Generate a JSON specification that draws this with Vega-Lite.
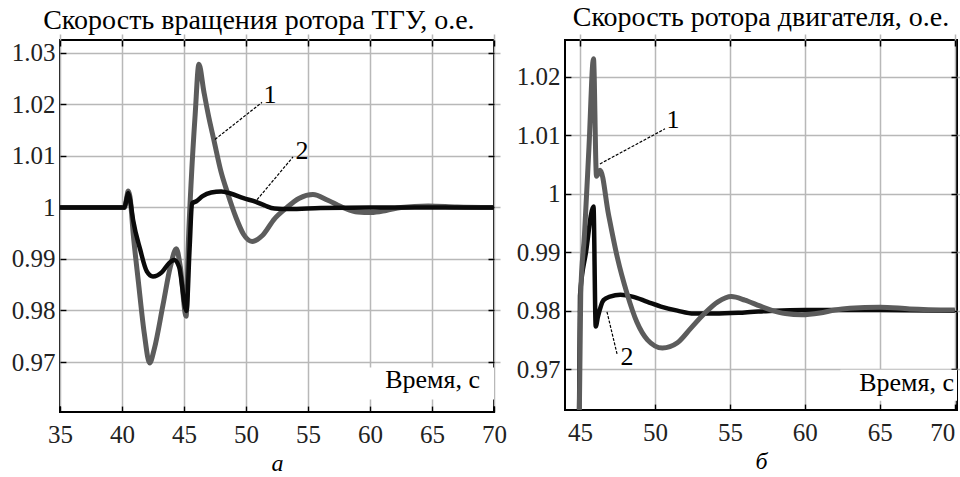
{
  "$schema": "https://vega.github.io/schema/vega-lite/v6.json",
  "padding": {"left": 10, "top": 3, "right": 5, "bottom": 0},
  "background": "white",
  "config": {
    "font": "Liberation Serif",
    "view": {"stroke": "black", "strokeWidth": 2},
    "axis": {
      "labelFont": "Liberation Serif", "labelFontSize": 25, "labelColor": "#222222",
      "grid": true, "gridColor": "#b8b8b8", "gridWidth": 1.5, "domain": false,
      "ticks": true, "tickColor": "black", "tickSize": 6, "tickWidth": 1.5, "offset": -6,
      "titleFont": "Liberation Serif", "titleFontSize": 24, "titleFontStyle": "italic",
      "titleFontWeight": "normal", "titleColor": "black"
    },
    "title": {"font": "Liberation Serif", "fontSize": 28, "fontWeight": "normal", "color": "black", "offset": 4},
    "concat": {"spacing": 7}
  },
  "datasets": {
    "tgu": [
      {"s": "1", "t": 35, "v": 1.0}, {"s": "1", "t": 40.2, "v": 1.0}, {"s": "1", "t": 40.35, "v": 1.0015},
      {"s": "1", "t": 40.5, "v": 1.0032}, {"s": "1", "t": 40.65, "v": 1.002}, {"s": "1", "t": 40.9, "v": 0.995},
      {"s": "1", "t": 41.33, "v": 0.9854}, {"s": "1", "t": 41.8, "v": 0.9755}, {"s": "1", "t": 42.23, "v": 0.9698},
      {"s": "1", "t": 42.6, "v": 0.9725}, {"s": "1", "t": 43.3, "v": 0.981}, {"s": "1", "t": 43.9, "v": 0.9885},
      {"s": "1", "t": 44.38, "v": 0.992}, {"s": "1", "t": 44.7, "v": 0.9885}, {"s": "1", "t": 45.17, "v": 0.9789},
      {"s": "1", "t": 45.35, "v": 0.993}, {"s": "1", "t": 45.6, "v": 1.006}, {"s": "1", "t": 45.9, "v": 1.018},
      {"s": "1", "t": 46.2, "v": 1.0278}, {"s": "1", "t": 46.6, "v": 1.0225}, {"s": "1", "t": 47.0, "v": 1.0175},
      {"s": "1", "t": 47.4, "v": 1.0132}, {"s": "1", "t": 48.0, "v": 1.0068}, {"s": "1", "t": 48.5, "v": 1.0029},
      {"s": "1", "t": 49.2, "v": 0.998}, {"s": "1", "t": 49.8, "v": 0.9948}, {"s": "1", "t": 50.5, "v": 0.9934},
      {"s": "1", "t": 51.3, "v": 0.9945}, {"s": "1", "t": 52.3, "v": 0.9978}, {"s": "1", "t": 53.2, "v": 0.9998},
      {"s": "1", "t": 54.3, "v": 1.0018}, {"s": "1", "t": 55.4, "v": 1.0025}, {"s": "1", "t": 56.6, "v": 1.0014},
      {"s": "1", "t": 57.9, "v": 0.9999}, {"s": "1", "t": 59.0, "v": 0.9991}, {"s": "1", "t": 60.1, "v": 0.999},
      {"s": "1", "t": 61.3, "v": 0.9994}, {"s": "1", "t": 62.5, "v": 1.0}, {"s": "1", "t": 64.7, "v": 1.0003},
      {"s": "1", "t": 67, "v": 1.0001}, {"s": "1", "t": 70, "v": 1.0},
      {"s": "2", "t": 35, "v": 1.0}, {"s": "2", "t": 40.2, "v": 1.0}, {"s": "2", "t": 40.35, "v": 1.0014},
      {"s": "2", "t": 40.5, "v": 1.0028}, {"s": "2", "t": 40.65, "v": 1.0015}, {"s": "2", "t": 40.9, "v": 0.9975},
      {"s": "2", "t": 41.47, "v": 0.9918}, {"s": "2", "t": 42.0, "v": 0.9876}, {"s": "2", "t": 42.5, "v": 0.9866},
      {"s": "2", "t": 43.2, "v": 0.9874}, {"s": "2", "t": 43.8, "v": 0.9892}, {"s": "2", "t": 44.2, "v": 0.9898},
      {"s": "2", "t": 44.6, "v": 0.9885}, {"s": "2", "t": 45.2, "v": 0.9799}, {"s": "2", "t": 45.45, "v": 0.992},
      {"s": "2", "t": 45.65, "v": 1.0008}, {"s": "2", "t": 46.0, "v": 1.0012}, {"s": "2", "t": 46.5, "v": 1.0022},
      {"s": "2", "t": 47.2, "v": 1.0029}, {"s": "2", "t": 48.0, "v": 1.0031}, {"s": "2", "t": 48.75, "v": 1.0027},
      {"s": "2", "t": 49.8, "v": 1.0018}, {"s": "2", "t": 50.8, "v": 1.0011}, {"s": "2", "t": 51.5, "v": 1.0004},
      {"s": "2", "t": 52.3, "v": 0.9998}, {"s": "2", "t": 53.5, "v": 0.9997}, {"s": "2", "t": 56, "v": 0.9999},
      {"s": "2", "t": 60, "v": 1.0}, {"s": "2", "t": 70, "v": 1.0}
    ],
    "motor": [
      {"s": "1", "t": 44.9, "v": 0.95}, {"s": "1", "t": 45.05, "v": 0.983}, {"s": "1", "t": 45.3, "v": 0.993},
      {"s": "1", "t": 45.6, "v": 1.008}, {"s": "1", "t": 45.9, "v": 1.0231}, {"s": "1", "t": 46.1, "v": 1.003},
      {"s": "1", "t": 46.35, "v": 1.004}, {"s": "1", "t": 46.9, "v": 0.9965}, {"s": "1", "t": 47.5, "v": 0.989},
      {"s": "1", "t": 48.13, "v": 0.983}, {"s": "1", "t": 48.8, "v": 0.978}, {"s": "1", "t": 49.5, "v": 0.975},
      {"s": "1", "t": 50.5, "v": 0.9736}, {"s": "1", "t": 51.5, "v": 0.9745}, {"s": "1", "t": 52.4, "v": 0.977},
      {"s": "1", "t": 53.3, "v": 0.9795}, {"s": "1", "t": 54.2, "v": 0.9815}, {"s": "1", "t": 55.1, "v": 0.9824},
      {"s": "1", "t": 56.0, "v": 0.9818}, {"s": "1", "t": 57.0, "v": 0.9808}, {"s": "1", "t": 57.75, "v": 0.9801},
      {"s": "1", "t": 58.7, "v": 0.9795}, {"s": "1", "t": 59.8, "v": 0.9793}, {"s": "1", "t": 61.0, "v": 0.9796},
      {"s": "1", "t": 62.0, "v": 0.9801}, {"s": "1", "t": 63.0, "v": 0.9804}, {"s": "1", "t": 65.0, "v": 0.9806},
      {"s": "1", "t": 67, "v": 0.9803}, {"s": "1", "t": 70, "v": 0.9801},
      {"s": "2", "t": 44.9, "v": 0.95}, {"s": "2", "t": 45.0, "v": 0.9825}, {"s": "2", "t": 45.4, "v": 0.99},
      {"s": "2", "t": 45.9, "v": 0.9978}, {"s": "2", "t": 46.05, "v": 0.9773}, {"s": "2", "t": 46.2, "v": 0.979},
      {"s": "2", "t": 46.57, "v": 0.9818}, {"s": "2", "t": 47.0, "v": 0.9824}, {"s": "2", "t": 47.7, "v": 0.9827},
      {"s": "2", "t": 48.5, "v": 0.9824}, {"s": "2", "t": 49.5, "v": 0.9815}, {"s": "2", "t": 50.4, "v": 0.9807},
      {"s": "2", "t": 51.5, "v": 0.98}, {"s": "2", "t": 52.6, "v": 0.9795}, {"s": "2", "t": 54, "v": 0.9795},
      {"s": "2", "t": 56, "v": 0.9797}, {"s": "2", "t": 58, "v": 0.98}, {"s": "2", "t": 60, "v": 0.9801},
      {"s": "2", "t": 65, "v": 0.9801}, {"s": "2", "t": 70, "v": 0.98}
    ],
    "tgu_labels": [
      {"label": "1", "t": 51.94, "v": 1.02175},
      {"label": "2", "t": 54.52, "v": 1.0109}
    ],
    "tgu_leaders": [
      {"t": 47.5, "v": 1.0132, "t2": 51.29, "v2": 1.0204},
      {"t": 50.89, "v": 1.0015, "t2": 53.79, "v2": 1.0098}
    ],
    "tgu_box": [{"t": 59.76, "t2": 70, "v": 0.96272, "v2": 0.96895}],
    "tgu_axis_text": [{"label": "Время, с", "t": 68.87, "v": 0.96505}],
    "motor_labels": [
      {"label": "1", "t": 51.2, "v": 1.0126},
      {"label": "2", "t": 48.14, "v": 0.9721}
    ],
    "motor_leaders": [
      {"t": 46.33, "v": 1.0051, "t2": 50.67, "v2": 1.0111},
      {"t": 46.8, "v": 0.9798, "t2": 47.47, "v2": 0.9726}
    ],
    "motor_box": [{"t": 62.37, "t2": 70.15, "v": 0.96459, "v2": 0.96989}],
    "motor_axis_text": [{"label": "Время, с", "t": 69.95, "v": 0.96627}]
  },
  "hconcat": [
    {
      "width": 434,
      "height": 372,
      "title": {"text": "Скорость вращения ротора ТГУ, о.е.", "frame": "bounds", "anchor": "middle", "offset": 4},
      "resolve": {"axis": {"x": "independent", "y": "independent"}},
      "layer": [
        {
          "data": {"name": "tgu_box"},
          "mark": {"type": "rect", "fill": "white"},
          "encoding": {
            "x": {"field": "t", "type": "quantitative", "scale": {"domain": [35, 70], "nice": false, "zero": false},
                  "axis": {"values": [35, 40, 45, 50, 55, 60, 65, 70], "title": "а", "labelFlush": false, "labelPadding": 10, "titlePadding": 4}},
            "x2": {"field": "t2"},
            "y": {"field": "v", "type": "quantitative", "scale": {"domain": [0.9603, 1.0325], "nice": false, "zero": false},
                  "axis": {"values": [0.97, 0.98, 0.99, 1.0, 1.01, 1.02, 1.03], "format": ".2~f", "title": null, "labelFlush": false, "labelPadding": 5}},
            "y2": {"field": "v2"}
          }
        },
        {
          "data": {"name": "tgu"},
          "transform": [{"filter": "datum.s == '1'"}],
          "mark": {"type": "line", "stroke": "#5c5c5c", "strokeWidth": 5, "interpolate": "monotone", "clip": true},
          "encoding": {
            "x": {"field": "t", "type": "quantitative", "scale": {"domain": [35, 70], "nice": false, "zero": false},
                  "axis": {"orient": "top", "values": [35, 40, 45, 50, 55, 60, 65, 70], "labels": false, "grid": false, "title": null}},
            "y": {"field": "v", "type": "quantitative", "scale": {"domain": [0.9603, 1.0325], "nice": false, "zero": false},
                  "axis": {"orient": "right", "values": [0.97, 0.98, 0.99, 1.0, 1.01, 1.02, 1.03], "labels": false, "grid": false, "title": null}}
          }
        },
        {
          "data": {"name": "tgu"},
          "transform": [{"filter": "datum.s == '2'"}],
          "mark": {"type": "line", "stroke": "#0a0a0a", "strokeWidth": 4.5, "interpolate": "monotone", "clip": true},
          "encoding": {
            "x": {"field": "t", "type": "quantitative", "axis": null},
            "y": {"field": "v", "type": "quantitative", "axis": null}
          }
        },
        {
          "data": {"name": "tgu_leaders"},
          "mark": {"type": "rule", "color": "black", "strokeWidth": 1.2, "strokeDash": [3, 1.5]},
          "encoding": {
            "x": {"field": "t", "type": "quantitative", "axis": null},
            "y": {"field": "v", "type": "quantitative", "axis": null},
            "x2": {"field": "t2"},
            "y2": {"field": "v2"}
          }
        },
        {
          "data": {"name": "tgu_labels"},
          "mark": {"type": "text", "font": "Liberation Serif", "fontSize": 26, "color": "black", "align": "center", "baseline": "middle"},
          "encoding": {
            "x": {"field": "t", "type": "quantitative", "axis": null},
            "y": {"field": "v", "type": "quantitative", "axis": null},
            "text": {"field": "label"}
          }
        },
        {
          "data": {"name": "tgu_axis_text"},
          "mark": {"type": "text", "font": "Liberation Serif", "fontSize": 26, "color": "black", "align": "right", "baseline": "alphabetic"},
          "encoding": {
            "x": {"field": "t", "type": "quantitative", "axis": null},
            "y": {"field": "v", "type": "quantitative", "axis": null},
            "text": {"field": "label"}
          }
        }
      ]
    },
    {
      "width": 392,
      "height": 370,
      "title": {"text": "Скорость ротора двигателя, о.е.", "frame": "group", "anchor": "middle", "offset": 7},
      "resolve": {"axis": {"x": "independent", "y": "independent"}},
      "layer": [
        {
          "data": {"name": "motor_box"},
          "mark": {"type": "rect", "fill": "white"},
          "encoding": {
            "x": {"field": "t", "type": "quantitative", "scale": {"domain": [44, 70.15], "nice": false, "zero": false},
                  "axis": {"values": [45, 50, 55, 60, 65, 70], "title": "б", "labelFlush": 5, "labelPadding": 10, "titlePadding": 4}},
            "x2": {"field": "t2"},
            "y": {"field": "v", "type": "quantitative", "scale": {"domain": [0.963, 1.0263], "nice": false, "zero": false},
                  "axis": {"values": [0.97, 0.98, 0.99, 1.0, 1.01, 1.02], "format": ".2~f", "title": null, "labelFlush": false, "labelPadding": 5}},
            "y2": {"field": "v2"}
          }
        },
        {
          "data": {"name": "motor"},
          "transform": [{"filter": "datum.s == '2'"}],
          "mark": {"type": "line", "stroke": "#0a0a0a", "strokeWidth": 4.5, "interpolate": "monotone", "clip": true},
          "encoding": {
            "x": {"field": "t", "type": "quantitative", "scale": {"domain": [44, 70.15], "nice": false, "zero": false},
                  "axis": {"orient": "top", "values": [45, 50, 55, 60, 65, 70], "labels": false, "grid": false, "title": null}},
            "y": {"field": "v", "type": "quantitative", "scale": {"domain": [0.963, 1.0263], "nice": false, "zero": false},
                  "axis": {"orient": "right", "values": [0.97, 0.98, 0.99, 1.0, 1.01, 1.02], "labels": false, "grid": false, "title": null}}
          }
        },
        {
          "data": {"name": "motor"},
          "transform": [{"filter": "datum.s == '1'"}],
          "mark": {"type": "line", "stroke": "#5c5c5c", "strokeWidth": 5, "interpolate": "monotone", "clip": true},
          "encoding": {
            "x": {"field": "t", "type": "quantitative", "axis": null},
            "y": {"field": "v", "type": "quantitative", "axis": null}
          }
        },
        {
          "data": {"name": "motor_leaders"},
          "mark": {"type": "rule", "color": "black", "strokeWidth": 1.2, "strokeDash": [3, 1.5]},
          "encoding": {
            "x": {"field": "t", "type": "quantitative", "axis": null},
            "y": {"field": "v", "type": "quantitative", "axis": null},
            "x2": {"field": "t2"},
            "y2": {"field": "v2"}
          }
        },
        {
          "data": {"name": "motor_labels"},
          "mark": {"type": "text", "font": "Liberation Serif", "fontSize": 26, "color": "black", "align": "center", "baseline": "middle"},
          "encoding": {
            "x": {"field": "t", "type": "quantitative", "axis": null},
            "y": {"field": "v", "type": "quantitative", "axis": null},
            "text": {"field": "label"}
          }
        },
        {
          "data": {"name": "motor_axis_text"},
          "mark": {"type": "text", "font": "Liberation Serif", "fontSize": 26, "color": "black", "align": "right", "baseline": "alphabetic"},
          "encoding": {
            "x": {"field": "t", "type": "quantitative", "axis": null},
            "y": {"field": "v", "type": "quantitative", "axis": null},
            "text": {"field": "label"}
          }
        }
      ]
    }
  ]
}
